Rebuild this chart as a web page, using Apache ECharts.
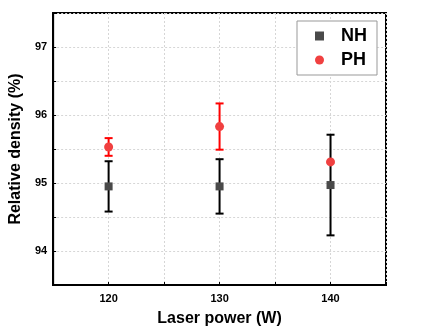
<!DOCTYPE html>
<html>
<head>
<meta charset="utf-8">
<script src="https://cdn.jsdelivr.net/npm/echarts@6/dist/echarts.min.js"></script>
<style>
  html, body { margin: 0; padding: 0; background: #fff; }
  #chart { width: 421px; height: 336px; }
</style>
</head>
<body>
<div id="chart"></div>
<script>
// Laser power settings (W)
const power = [120, 130, 140];
// Relative density means (%) and symmetric errors
const nhMean = [94.95, 94.95, 94.97];
const nhErr = [0.37, 0.40, 0.74];
const phMean = [95.53, 95.83, 95.31];
const phErr = [0.13, 0.34, 0.0];
// Axis tick labels
const xTickLabels = [120, 130, 140];
const yTickLabels = [94, 95, 96, 97];

const FONT = '"Liberation Sans", Arial, sans-serif';

function errorBars(means, errs, color) {
  return {
    type: 'custom',
    silent: true,
    z: 2,
    data: power.map((p, i) => [p, means[i] - errs[i], means[i] + errs[i]]),
    renderItem: function (params, api) {
      const x = api.value(0), lo = api.value(1), hi = api.value(2);
      if (hi - lo <= 0) return null;
      const pLo = api.coord([x, lo]);
      const pHi = api.coord([x, hi]);
      const w = 4;
      const style = { stroke: color, lineWidth: 2 };
      return {
        type: 'group',
        children: [
          { type: 'line', shape: { x1: pLo[0], y1: pLo[1], x2: pHi[0], y2: pHi[1] }, style },
          { type: 'line', shape: { x1: pLo[0] - w, y1: pLo[1], x2: pLo[0] + w, y2: pLo[1] }, style },
          { type: 'line', shape: { x1: pHi[0] - w, y1: pHi[1], x2: pHi[0] + w, y2: pHi[1] }, style }
        ]
      };
    }
  };
}

const chart = echarts.init(document.getElementById('chart'), null, { renderer: 'canvas' });
chart.setOption({
  animation: false,
  backgroundColor: '#fff',
  grid: {
    left: 48, right: 35, top: 13, bottom: 51,
    show: true, borderColor: '#000', borderWidth: 2, backgroundColor: 'transparent'
  },
  legend: {
    orient: 'vertical',
    right: 44, top: 21,
    padding: [6, 10, 6, 18],
    itemGap: 6,
    itemWidth: 9, itemHeight: 9,
    borderColor: '#999', borderWidth: 1,
    backgroundColor: '#fff',
    textStyle: { fontFamily: FONT, fontWeight: 'bold', fontSize: 18, color: '#000', padding: [0, 0, 0, 12] },
    data: [
      { name: 'NH', icon: 'rect' },
      { name: 'PH', icon: 'circle' }
    ]
  },
  xAxis: {
    type: 'value',
    min: 115, max: 145, interval: 5,
    name: 'Laser power (W)',
    nameLocation: 'middle',
    nameGap: 26,
    nameTextStyle: { fontFamily: FONT, fontWeight: 'bold', fontSize: 16, color: '#000' },
    axisLine: { show: true, lineStyle: { color: '#000', width: 2 } },
    axisTick: { show: true, inside: true, length: 3, lineStyle: { color: '#000', width: 1 } },
    axisLabel: {
      fontFamily: FONT, fontWeight: 'bold', fontSize: 11, color: '#000', margin: 8,
      formatter: v => (xTickLabels.includes(v) ? String(v) : '')
    },
    splitLine: { show: true, lineStyle: { color: '#d6d6d6', type: [2, 2], width: 1 } }
  },
  yAxis: {
    type: 'value',
    min: 93.5, max: 97.5, interval: 0.5,
    name: 'Relative density (%)',
    nameLocation: 'middle',
    nameGap: 19,
    nameTextStyle: { fontFamily: FONT, fontWeight: 'bold', fontSize: 16, color: '#000' },
    axisLine: { show: true, lineStyle: { color: '#000', width: 2 } },
    axisTick: { show: true, inside: true, length: 3, lineStyle: { color: '#000', width: 1 } },
    axisLabel: {
      fontFamily: FONT, fontWeight: 'bold', fontSize: 11, color: '#000', margin: 6,
      formatter: v => (yTickLabels.includes(v) ? String(v) : '')
    },
    splitLine: { show: true, lineStyle: { color: '#d6d6d6', type: [2, 2], width: 1 } }
  },
  series: [
    errorBars(nhMean, nhErr, '#000'),
    {
      name: 'NH', type: 'scatter', z: 3,
      symbol: 'rect', symbolSize: 8,
      itemStyle: { color: '#4a4a4a', opacity: 1 },
      data: power.map((p, i) => [p, nhMean[i]])
    },
    errorBars(phMean, phErr, '#ff0000'),
    {
      name: 'PH', type: 'scatter', z: 4,
      symbol: 'circle', symbolSize: 9,
      itemStyle: { color: '#f04040', opacity: 1 },
      data: power.map((p, i) => [p, phMean[i]])
    }
  ]
});
</script>
</body>
</html>
